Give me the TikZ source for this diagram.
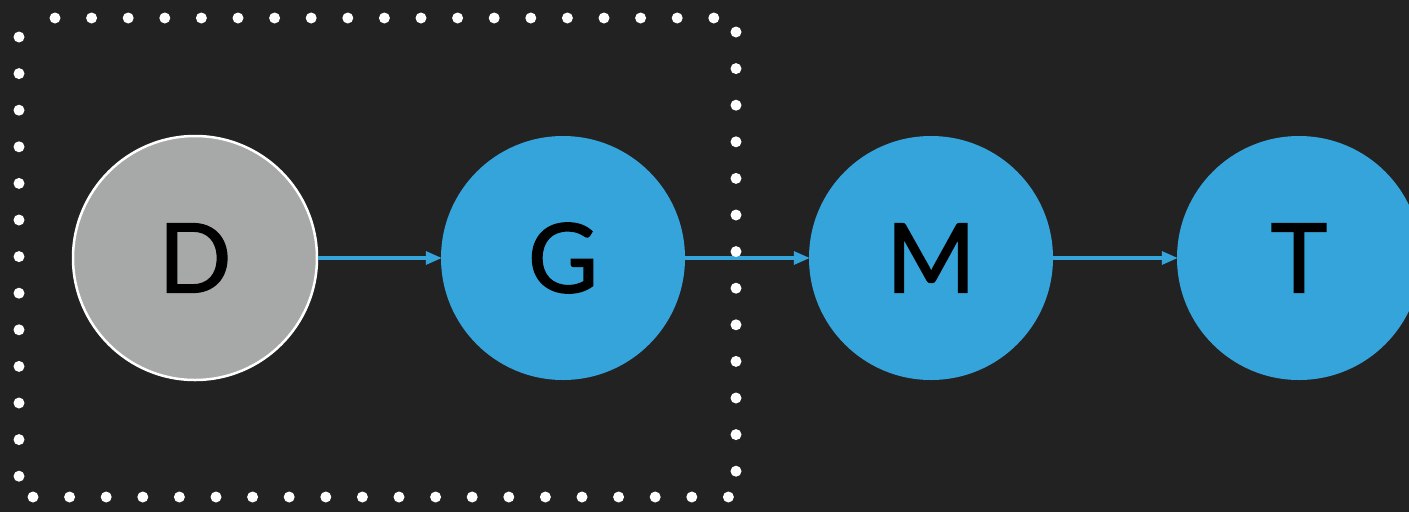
\documentclass[tikz,border=0pt]{standalone}
\usepackage{fontspec}
\setmainfont{Lato}[FakeBold=1.5]
\usetikzlibrary{arrows.meta}
\definecolor{bgdark}{HTML}{222222}
\definecolor{nodeblue}{HTML}{35A4DB}
\definecolor{nodegray}{HTML}{A6A9A7}
\begin{document}
\begin{tikzpicture}[x=1pt,y=-1pt,
  state/.style={circle,minimum size=244pt,inner sep=0pt,
    font=\fontsize{96}{96}\selectfont,text=black},
  latent/.style={state,fill=nodeblue},
  observed/.style={state,fill=nodegray,draw=white,line width=2.5pt},
  link/.style={nodeblue,line width=3.2pt,
    -{Triangle[length=16pt,width=13pt]},shorten >=-1pt},
  platedot/.style={white}]
  \useasboundingbox (0,0) rectangle (1409,512);
  \fill[bgdark] (0,0) rectangle (1409,512);
  \node[observed] (d) at (195,258) {D};
  \node[latent]   (g) at (563,258) {G};
  \node[latent]   (m) at (931,258) {M};
  \node[latent]   (t) at (1299,258) {T};
  \draw[link] (d) -- (g);
  \draw[link] (g) -- (m);
  \draw[link] (m) -- (t);
  % dotted plate around the observed node and its first child
  \foreach \k in {0,...,18} \fill[platedot] ({55+36.6*\k},18) circle (5.5pt);
  \foreach \k in {0,...,12} \fill[platedot] (736,{32+36.6*\k}) circle (5.5pt);
  \foreach \k in {0,...,19} \fill[platedot] ({33+36.6*\k},497) circle (5.5pt);
  \foreach \k in {0,...,12} \fill[platedot] (19,{37+36.6*\k}) circle (5.5pt);
\end{tikzpicture}
\end{document}
